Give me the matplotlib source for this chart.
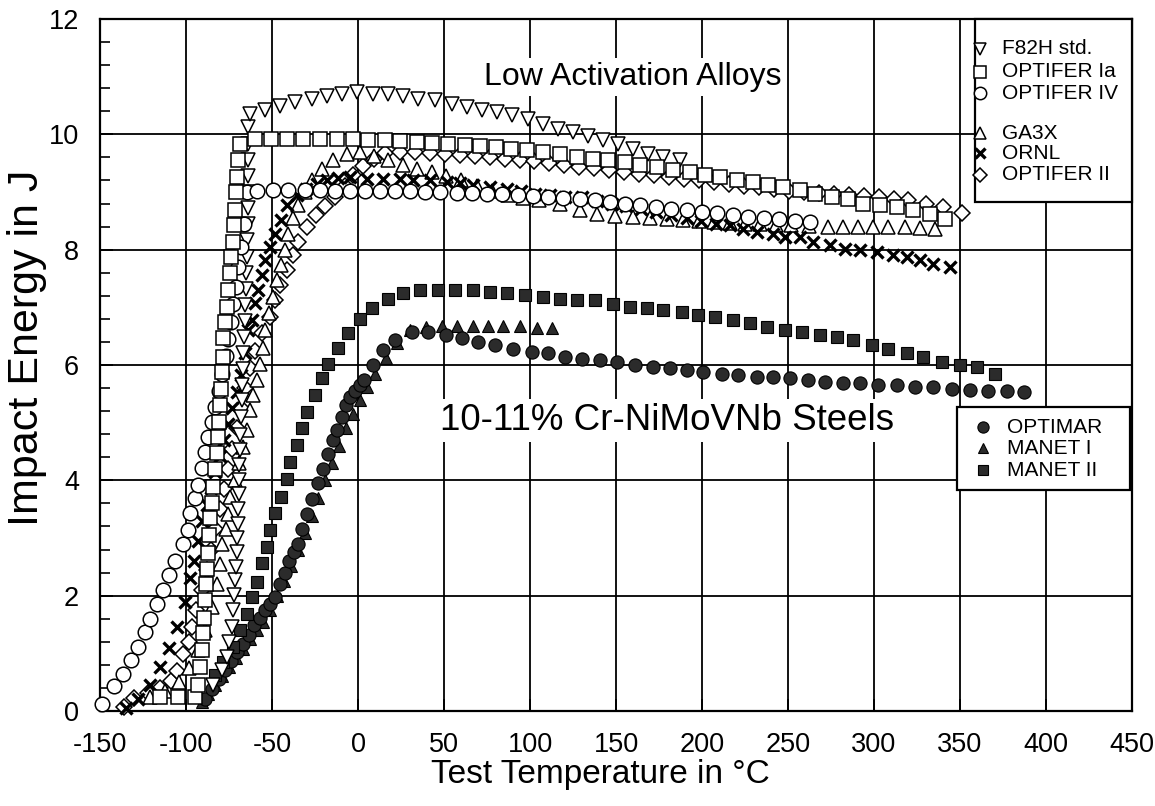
import matplotlib
matplotlib.use("Agg")
import matplotlib.pyplot as plt
from matplotlib.patches import Rectangle
from matplotlib.ticker import MultipleLocator

# ---------------- data (temperature in degC, impact energy in J) ----------------
f82h_x = [-84.1, -79.2, -76.3, -75.0, -73.4, -72.5, -72.0, -71.5, -70.8, -70.5,
          -70.3, -70.0, -69.6, -69.4, -69.2, -69.0, -68.6, -68.4, -68.2, -67.6,
          -67.4, -67.0, -66.6, -66.2, -65.8, -65.5, -65.2, -64.9, -64.6, -64.4,
          -64.2, -64.0, -63.9, -63.8, -63.8, -63.8, -63.8, -62.8, -54.0, -45.3,
          -36.6, -26.9, -18.2, -9.5, -0.8, 8.9, 17.6, 26.3, 35.1, 44.8,
          54.5, 63.2, 71.9, 80.6, 89.4, 99.0, 107.7, 116.5, 125.2, 133.9,
          142.6, 151.3, 160.1, 168.8, 177.5, 187.2]
f82h_y = [0.45, 0.71, 0.94, 1.20, 1.46, 1.75, 2.01, 2.27, 2.50, 2.75,
          3.00, 3.25, 3.50, 3.77, 4.00, 4.26, 4.52, 4.78, 5.10, 5.39,
          5.65, 5.93, 6.20, 6.48, 6.76, 7.04, 7.32, 7.60, 7.88, 8.16,
          8.44, 8.72, 9.00, 9.28, 9.56, 9.84, 10.13, 10.36, 10.42, 10.50,
          10.56, 10.61, 10.67, 10.70, 10.73, 10.70, 10.70, 10.67, 10.61, 10.59,
          10.53, 10.47, 10.42, 10.39, 10.33, 10.27, 10.18, 10.10, 10.04, 9.98,
          9.90, 9.84, 9.75, 9.66, 9.61, 9.55]

opt_ia_x = [-115.0, -104.5, -94.8, -92.8, -91.9, -90.9, -90.3, -89.5, -89.0, -88.4,
            -87.8, -87.0, -86.4, -86.0, -85.0, -84.1, -83.1, -82.2, -81.2, -80.8,
            -80.2, -79.6, -79.2, -78.7, -78.3, -77.3, -76.3, -75.4, -74.4, -73.6,
            -72.9, -72.2, -71.5, -70.8, -70.3, -69.8, -68.6, -59.9, -50.5, -41.5,
            -31.8, -22.1, -12.4, -3.2, 6.0, 15.7, 24.4, 34.1, 42.8, 52.5,
            62.2, 70.9, 80.0, 89.0, 98.0, 107.7, 117.4, 127.1, 136.8, 145.5,
            155.2, 163.9, 173.7, 183.3, 193.0, 201.7, 210.5, 220.2, 229.8, 238.6,
            247.3, 257.0, 265.7, 275.4, 285.0, 293.8, 303.5, 313.2, 322.9, 332.6,
            341.3]
opt_ia_y = [0.25, 0.25, 0.25, 0.45, 0.77, 1.06, 1.36, 1.62, 1.92, 2.20,
            2.47, 2.74, 3.05, 3.34, 3.60, 3.89, 4.20, 4.47, 4.75, 5.01,
            5.30, 5.59, 5.88, 6.14, 6.46, 6.75, 7.00, 7.30, 7.59, 7.87,
            8.13, 8.42, 8.68, 9.00, 9.26, 9.55, 9.84, 9.92, 9.92, 9.92,
            9.92, 9.92, 9.92, 9.92, 9.90, 9.90, 9.88, 9.87, 9.85, 9.84,
            9.82, 9.80, 9.78, 9.75, 9.72, 9.69, 9.66, 9.61, 9.57, 9.55,
            9.52, 9.46, 9.43, 9.38, 9.35, 9.29, 9.26, 9.20, 9.17, 9.12,
            9.09, 9.03, 8.97, 8.91, 8.88, 8.80, 8.77, 8.74, 8.68, 8.62,
            8.54]

opt_iv_x = [-149.0, -142.0, -136.5, -132.0, -128.0, -124.0, -121.0, -117.0, -113.5, -110.0,
            -106.5, -102.0, -99.0, -97.5, -95.0, -93.0, -91.0, -89.0, -87.0, -85.0,
            -83.0, -81.0, -79.0, -77.0, -75.5, -74.0, -72.5, -71.0, -69.5, -68.0,
            -66.5, -64.7, -58.9, -49.2, -40.5, -30.8, -22.1, -13.4, -4.7, 4.1,
            12.8, 21.5, 30.2, 39.0, 47.7, 57.4, 66.1, 74.8, 83.5, 93.2,
            101.9, 110.6, 119.4, 129.1, 137.8, 146.5, 155.2, 164.0, 173.0, 182.0,
            191.0, 200.0, 209.0, 218.0, 227.0, 236.0, 245.0, 254.0, 263.0]
opt_iv_y = [0.12, 0.43, 0.64, 0.88, 1.11, 1.37, 1.59, 1.85, 2.09, 2.35,
            2.60, 2.90, 3.14, 3.43, 3.69, 3.92, 4.21, 4.49, 4.75, 5.01,
            5.27, 5.55, 5.85, 6.15, 6.45, 6.75, 7.05, 7.35, 7.70, 8.05,
            8.45, 9.00, 9.02, 9.03, 9.03, 9.03, 9.03, 9.02, 9.02, 9.02,
            9.02, 9.01, 9.01, 9.00, 9.00, 8.99, 8.98, 8.97, 8.96, 8.94,
            8.93, 8.91, 8.90, 8.88, 8.86, 8.82, 8.80, 8.78, 8.74, 8.70,
            8.68, 8.65, 8.63, 8.60, 8.57, 8.55, 8.53, 8.50, 8.48]

ga3x_x = [-121.0, -112.0, -104.0, -98.0, -93.0, -89.0, -85.0, -82.2, -80.5, -79.2,
          -77.0, -75.4, -74.4, -71.5, -69.0, -66.7, -64.7, -62.8, -61.0, -58.9,
          -57.0, -55.5, -54.0, -51.5, -49.2, -47.3, -44.5, -42.5, -40.5, -37.6,
          -34.7, -31.0, -26.9, -21.1, -14.3, -6.6, 1.2, 9.0, 17.6, 26.0,
          34.1, 42.8, 51.0, 60.0, 69.0, 78.0, 87.0, 96.0, 105.0, 117.4,
          129.0, 138.8, 149.4, 160.0, 170.0, 179.5, 189.0, 198.0, 207.0, 216.0,
          225.0, 234.0, 243.0, 252.0, 262.0, 273.4, 282.2, 290.9, 299.6, 308.3,
          318.0, 326.7, 335.5]
ga3x_y = [0.25, 0.35, 0.50, 0.75, 1.05, 1.40, 1.81, 2.21, 2.55, 2.90,
          3.15, 3.42, 3.71, 4.00, 4.30, 4.58, 4.87, 5.22, 5.48, 5.74,
          6.02, 6.30, 6.60, 6.90, 7.18, 7.47, 7.73, 8.00, 8.28, 8.55,
          8.77, 9.00, 9.20, 9.40, 9.56, 9.66, 9.69, 9.62, 9.55, 9.47,
          9.40, 9.35, 9.28, 9.20, 9.10, 9.02, 8.95, 8.90, 8.86, 8.80,
          8.68, 8.62, 8.59, 8.57, 8.55, 8.54, 8.52, 8.50, 8.48, 8.46,
          8.45, 8.44, 8.43, 8.42, 8.41, 8.39, 8.39, 8.39, 8.39, 8.39,
          8.39, 8.37, 8.36]

ornl_x = [-135.0, -128.0, -121.0, -115.0, -110.0, -105.5, -100.5, -97.5, -95.5, -93.0,
          -90.5, -88.0, -85.5, -83.0, -80.5, -78.0, -75.5, -73.0, -70.5, -68.0,
          -65.8, -63.8, -61.8, -59.9, -58.0, -56.0, -54.0, -51.2, -48.3, -44.5,
          -41.5, -35.7, -30.0, -24.0, -18.0, -11.5, -4.7, 5.0, 14.5, 24.4,
          32.2, 41.9, 51.6, 59.0, 67.0, 77.0, 86.4, 95.0, 103.0, 111.5,
          120.5, 130.0, 138.7, 147.4, 156.0, 164.8, 173.5, 182.2, 191.0, 199.6,
          208.0, 216.3, 224.0, 231.8, 241.5, 248.3, 257.0, 264.7, 274.4, 283.1,
          291.9, 301.6, 311.3, 319.0, 326.7, 334.5, 344.2]
ornl_y = [0.05, 0.20, 0.45, 0.77, 1.09, 1.46, 1.89, 2.30, 2.60, 2.95,
          3.30, 3.58, 3.86, 4.14, 4.42, 4.70, 4.98, 5.26, 5.54, 5.82,
          6.20, 6.60, 6.78, 7.07, 7.30, 7.56, 7.82, 8.05, 8.28, 8.51,
          8.77, 8.94, 9.05, 9.14, 9.20, 9.24, 9.26, 9.23, 9.23, 9.23,
          9.20, 9.20, 9.17, 9.15, 9.12, 9.09, 9.06, 9.02, 8.97, 8.94,
          8.92, 8.91, 8.85, 8.80, 8.75, 8.70, 8.65, 8.60, 8.55, 8.50,
          8.45, 8.42, 8.36, 8.31, 8.28, 8.22, 8.22, 8.13, 8.08, 8.02,
          7.99, 7.96, 7.90, 7.87, 7.82, 7.76, 7.70]

opt_ii_x = [-136.0, -130.0, -122.0, -115.0, -109.0, -105.0, -101.5, -98.5, -96.5, -94.0,
            -91.0, -88.0, -85.5, -83.0, -80.5, -78.0, -75.5, -73.0, -70.5, -68.0,
            -65.5, -63.0, -60.0, -56.0, -51.2, -48.3, -45.3, -41.5, -38.0, -34.7,
            -29.8, -24.5, -19.2, -13.4, -7.6, -2.7, 3.0, 9.0, 15.7, 24.4,
            33.0, 41.7, 50.4, 59.0, 67.8, 76.5, 85.2, 94.0, 102.6, 111.3,
            120.0, 128.7, 137.4, 146.0, 154.8, 163.5, 172.2, 181.0, 189.6, 198.3,
            207.0, 215.7, 224.4, 233.0, 241.8, 250.5, 259.2, 268.0, 276.6, 285.3,
            294.0, 302.7, 311.4, 320.0, 330.0, 340.3, 351.0]
opt_ii_y = [0.07, 0.22, 0.32, 0.40, 0.52, 0.70, 0.98, 1.20, 1.45, 1.75,
            2.10, 2.45, 2.80, 3.15, 3.50, 3.85, 4.20, 4.55, 4.90, 5.25,
            5.60, 5.95, 6.25, 6.55, 6.83, 7.12, 7.38, 7.64, 7.90, 8.13,
            8.39, 8.60, 8.75, 8.92, 9.10, 9.30, 9.45, 9.57, 9.68, 9.70,
            9.69, 9.68, 9.66, 9.64, 9.62, 9.60, 9.58, 9.56, 9.53, 9.50,
            9.47, 9.44, 9.41, 9.38, 9.35, 9.32, 9.29, 9.26, 9.23, 9.20,
            9.17, 9.14, 9.11, 9.08, 9.05, 9.02, 9.00, 8.98, 8.96, 8.95,
            8.93, 8.91, 8.88, 8.86, 8.80, 8.74, 8.63]

optimar_x = [-89.0, -85.0, -81.0, -77.3, -74.0, -70.5, -67.0, -63.5, -60.5, -57.0,
             -54.0, -51.2, -48.5, -45.3, -42.4, -40.0, -37.5, -35.0, -32.7, -29.8,
             -26.9, -23.5, -20.5, -17.3, -14.5, -12.0, -9.5, -7.0, -4.5, -1.7,
             1.0, 3.5, 8.9, 14.7, 21.5, 31.2, 40.9, 51.0, 60.3, 70.0,
             79.7, 90.3, 100.9, 110.6, 120.3, 130.0, 140.7, 150.4, 161.0, 171.7,
             181.4, 191.1, 200.8, 211.5, 221.1, 231.8, 241.5, 251.2, 261.8, 271.5,
             282.2, 291.9, 302.5, 313.2, 323.8, 334.5, 345.2, 355.8, 366.5, 377.1,
             387.2]
optimar_y = [0.20, 0.38, 0.55, 0.71, 0.87, 1.03, 1.17, 1.32, 1.49, 1.62,
             1.75, 1.85, 1.98, 2.20, 2.40, 2.60, 2.75, 2.90, 3.16, 3.42,
             3.68, 3.95, 4.20, 4.45, 4.70, 4.87, 5.10, 5.30, 5.45, 5.55,
             5.65, 5.74, 6.00, 6.26, 6.43, 6.58, 6.58, 6.52, 6.46, 6.40,
             6.34, 6.28, 6.23, 6.20, 6.14, 6.11, 6.08, 6.05, 6.00, 5.97,
             5.94, 5.91, 5.88, 5.85, 5.82, 5.79, 5.79, 5.77, 5.74, 5.71,
             5.68, 5.68, 5.65, 5.65, 5.62, 5.62, 5.59, 5.57, 5.55, 5.55,
             5.53]

manet1_x = [-91.0, -87.0, -83.0, -79.0, -75.0, -71.0, -67.0, -63.0, -59.0, -55.0,
            -51.0, -47.0, -43.0, -39.0, -35.0, -31.0, -27.0, -23.0, -19.0, -15.0,
            -11.0, -7.0, -3.0, 1.0, 5.0, 10.0, 16.0, 22.5, 30.2, 39.8,
            48.7, 57.4, 67.0, 75.8, 84.5, 94.2, 103.9, 112.6]
manet1_y = [0.15, 0.30, 0.45, 0.60, 0.76, 0.92, 1.08, 1.24, 1.40, 1.55,
            1.75, 2.00, 2.25, 2.52, 2.80, 3.08, 3.38, 3.70, 4.00, 4.30,
            4.60, 4.90, 5.15, 5.40, 5.62, 5.85, 6.12, 6.38, 6.60, 6.66,
            6.68, 6.68, 6.68, 6.68, 6.67, 6.67, 6.65, 6.65]

manet2_x = [-83.1, -78.3, -72.5, -68.6, -64.7, -61.8, -58.9, -56.0, -53.1, -51.2,
            -48.3, -44.5, -41.5, -39.5, -35.7, -32.7, -29.8, -25.0, -21.1, -17.3,
            -11.4, -5.6, 1.2, 7.9, 17.6, 26.3, 36.0, 46.7, 56.4, 67.1,
            76.7, 86.4, 97.1, 107.7, 117.4, 127.6, 137.8, 148.4, 158.1, 167.8,
            177.5, 188.2, 197.9, 207.6, 218.2, 227.9, 237.6, 248.3, 257.9, 268.6,
            278.3, 288.0, 298.7, 308.3, 319.0, 328.7, 339.4, 350.0, 359.7, 370.3]
manet2_y = [0.62, 0.85, 1.11, 1.40, 1.69, 1.97, 2.24, 2.56, 2.85, 3.14,
            3.43, 3.71, 4.03, 4.32, 4.61, 4.90, 5.19, 5.48, 5.77, 6.02,
            6.29, 6.55, 6.80, 6.98, 7.15, 7.24, 7.30, 7.30, 7.30, 7.30,
            7.27, 7.24, 7.21, 7.18, 7.15, 7.13, 7.12, 7.06, 7.01, 6.98,
            6.95, 6.92, 6.86, 6.83, 6.78, 6.72, 6.66, 6.60, 6.57, 6.52,
            6.49, 6.43, 6.34, 6.28, 6.20, 6.14, 6.05, 6.00, 5.96, 5.85]

x_ticks = [-150, -100, -50, 0, 50, 100, 150, 200, 250, 300, 350, 400, 450]
y_ticks = [0, 2, 4, 6, 8, 10, 12]

# ---------------- styles ----------------
OPEN = dict(linestyle="none", markerfacecolor="white", markeredgecolor="black",
            markeredgewidth=1.1)
FILLED = dict(linestyle="none", markerfacecolor="#2b2b2b", markeredgecolor="black",
              markeredgewidth=0.8)

series = [
    # (x, y, label, marker, size, style, zorder)
    (opt_ii_x, opt_ii_y, "OPTIFER II", "D", 8.5, OPEN, 3),
    (ga3x_x, ga3x_y, "GA3X", "^", 10, OPEN, 4),
    (ornl_x, ornl_y, "ORNL", "x", 8, None, 5),
    (f82h_x, f82h_y, "F82H std.", "v", 10, OPEN, 6),
    (opt_iv_x, opt_iv_y, "OPTIFER IV", "o", 10.5, OPEN, 7),
    (opt_ia_x, opt_ia_y, "OPTIFER Ia", "s", 10, OPEN, 8),
    (manet1_x, manet1_y, "MANET I", "^", 9, FILLED, 4),
    (optimar_x, optimar_y, "OPTIMAR", "o", 9.5, FILLED, 5),
    (manet2_x, manet2_y, "MANET II", "s", 9, FILLED, 5),
]

TEXT_FONT = ["Liberation Sans", "DejaVu Sans"]

fig = plt.figure(figsize=(11.55, 8.06), dpi=100)
fig.patch.set_facecolor("white")
ax = fig.add_axes([0.0866, 0.1179, 0.8935, 0.8585])

styles = {}
for xs, ys, label, marker, size, style, z in series:
    if style is None:
        kw = dict(linestyle="none", color="black", markeredgewidth=2.4)
    else:
        kw = dict(style)
    ax.plot(xs, ys, marker=marker, markersize=size, zorder=z, clip_on=False, **kw)
    styles[label] = (marker, size, kw)

ax.set_xlim(-150, 450)
ax.set_ylim(0, 12)
ax.set_xticks(x_ticks)
ax.set_yticks(y_ticks)
ax.set_xticklabels([str(v) for v in x_ticks])
ax.set_yticklabels([str(v) for v in y_ticks])
ax.yaxis.set_minor_locator(MultipleLocator(0.4))
ax.tick_params(axis="both", which="major", direction="in", length=9, width=1.3,
               labelsize=19.5, colors="black")
ax.tick_params(axis="x", which="major", pad=15)
ax.tick_params(axis="y", which="major", pad=15)
ax.tick_params(axis="y", which="minor", direction="in", length=7, width=1.2)
for lab in ax.get_xticklabels() + ax.get_yticklabels():
    lab.set_fontfamily(TEXT_FONT)

ax.grid(True, which="major", color="black", linewidth=1.3)
ax.set_axisbelow(True)
for sp in ax.spines.values():
    sp.set_linewidth(1.6)
    sp.set_color("black")

fig.text(27 / 1155, 1 - 348 / 806, "Impact Energy in J", rotation=90,
         ha="center", va="center", fontsize=31, family=TEXT_FONT)
fig.text(600 / 1155, 1 - 774 / 806, "Test Temperature in °C",
         ha="center", va="center", fontsize=24, family=TEXT_FONT)

# group captions
ax.text(160.0, 11.0, "Low Activation Alloys", ha="center", va="center",
        fontsize=23, family=TEXT_FONT, zorder=9,
        bbox=dict(facecolor="white", edgecolor="none", pad=3))
ax.text(179.7, 5.04, "10-11% Cr-NiMoVNb Steels", ha="center", va="center",
        fontsize=26.5, family=TEXT_FONT, zorder=9,
        bbox=dict(facecolor="white", edgecolor="none", pad=3))

# legend boxes
def legend_box(x0, y0, x1, y1, entries, mx, tx, fs):
    ax.add_patch(Rectangle((x0, y0), x1 - x0, y1 - y0, transform=ax.transAxes,
                           facecolor="white", edgecolor="black", linewidth=1.6,
                           zorder=20, clip_on=False))
    for label, ypos in entries:
        marker, size, kw = styles[label]
        ax.plot([mx], [ypos], marker=marker, markersize=size * 0.85,
                transform=ax.transAxes, zorder=21, clip_on=False, **kw)
        ax.text(tx, ypos, label, transform=ax.transAxes, ha="left", va="center",
                fontsize=fs, family=TEXT_FONT, zorder=21)

legend_box(0.848, 0.7355, 1.0, 1.0,
           [("F82H std.", 0.957), ("OPTIFER Ia", 0.924), ("OPTIFER IV", 0.893),
            ("GA3X", 0.835), ("ORNL", 0.806), ("OPTIFER II", 0.775)],
           0.853, 0.874, 15)
legend_box(0.830, 0.319, 0.998, 0.439,
           [("OPTIMAR", 0.410), ("MANET I", 0.380), ("MANET II", 0.348)],
           0.856, 0.879, 15)

fig.savefig("out.png", dpi=100, facecolor="white")
